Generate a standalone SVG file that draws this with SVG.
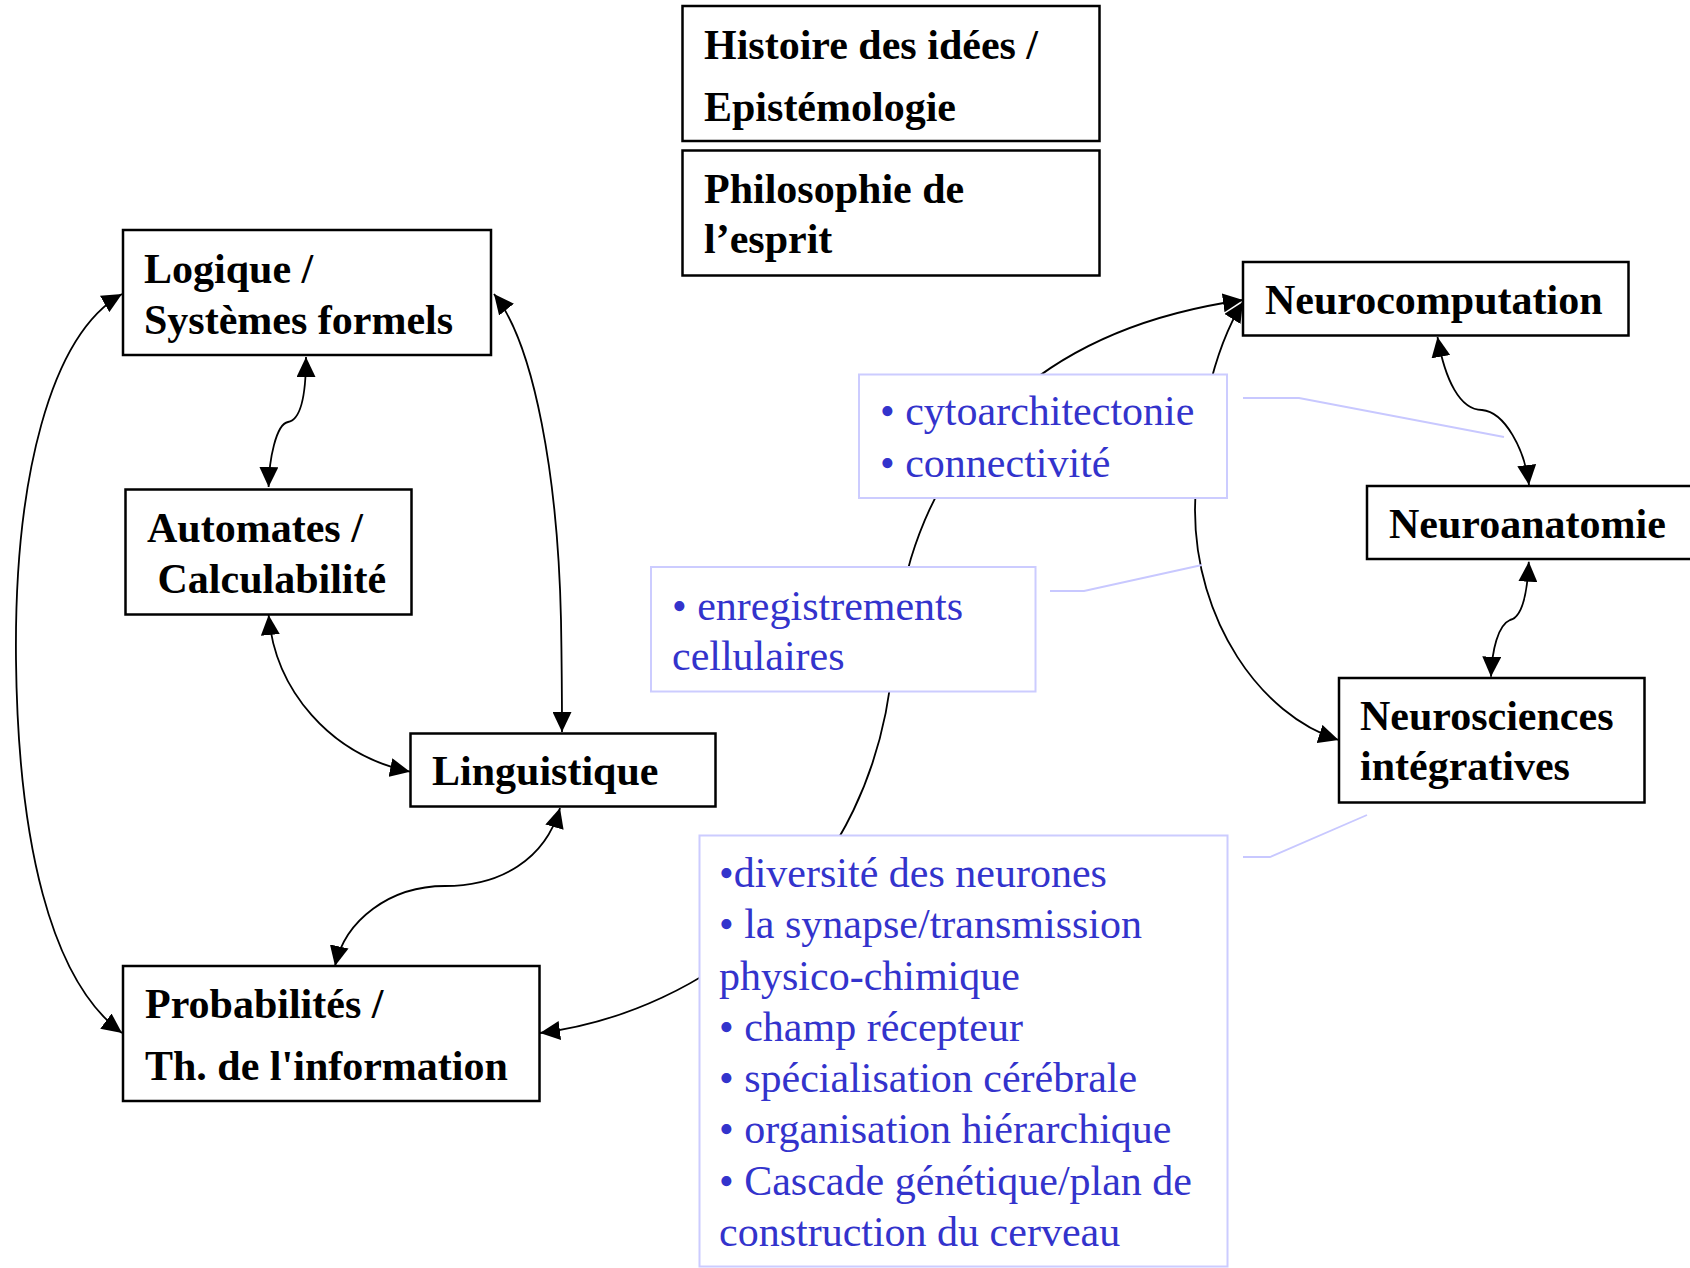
<svg xmlns="http://www.w3.org/2000/svg" width="1690" height="1268" viewBox="0 0 1690 1268">
<style>
.box{fill:#fff;stroke:#000;stroke-width:2.5}
.note{fill:#fff;stroke:#ccccff;stroke-width:2}
.bt{font-family:"Liberation Serif","Times New Roman",serif;font-weight:bold;font-size:42px;fill:#000}
.nt{font-family:"Liberation Serif","Times New Roman",serif;font-size:42px;fill:#3333cc}
.c{fill:none;stroke:#000;stroke-width:1.8}
.lead{fill:none;stroke:#c8c8ff;stroke-width:1.8}
</style>
<defs>
<marker id="ah" markerUnits="userSpaceOnUse" markerWidth="21" markerHeight="19" refX="20" refY="9.5" orient="auto-start-reverse">
<path d="M0,0 L20,9.5 L0,19 z" fill="#000"/>
</marker>
</defs>
<rect width="1690" height="1268" fill="#fff"/>
<g id="connectors">
<path class="c" d="M306,357 C306,400 300,420 288,422 C276,424 269,460 268.6,487" marker-start="url(#ah)" marker-end="url(#ah)"/>
<path class="c" d="M122,294 C50,335 14,480 16,660 C18,840 50,980 122,1033" marker-start="url(#ah)" marker-end="url(#ah)"/>
<path class="c" d="M494,294 C535,345 558,480 561,620 C562,680 562,710 562,732" marker-start="url(#ah)" marker-end="url(#ah)"/>
<path class="c" d="M268.6,615 C275,690 330,755 410,771.7" marker-start="url(#ah)" marker-end="url(#ah)"/>
<path class="c" d="M560,808 C545,860 500,886 445,886 C390,886 345,920 335,966" marker-start="url(#ah)" marker-end="url(#ah)"/>
<path class="c" d="M540,1033 C705,1012 875,885 893,660 C900,540 960,340 1243,300" marker-start="url(#ah)" marker-end="url(#ah)"/>
<path class="c" d="M1338.6,740 C1260,715 1195,620 1195,510 C1195,430 1213,350 1243,302" marker-start="url(#ah)" marker-end="url(#ah)"/>
<path class="c" d="M1437.5,337 C1445,380 1460,410 1482,410 C1505,412 1525,450 1529,485" marker-start="url(#ah)" marker-end="url(#ah)"/>
<path class="c" d="M1528.8,561.7 C1527,600 1520,618 1510,620 C1498,625 1492,650 1491,676.7" marker-start="url(#ah)" marker-end="url(#ah)"/>
<polyline class="lead" points="1243,398 1299,398 1504,437"/>
<polyline class="lead" points="1050,591 1084,591 1202,565"/>
<polyline class="lead" points="1243,857 1270,857 1367,815"/>
</g>
<g id="n-histoire">
<rect class="box" x="682.5" y="6" width="417" height="135"/>
<text class="bt" x="704" y="59">Histoire des idées /</text>
<text class="bt" x="704" y="121">Epistémologie</text>
</g>
<g id="n-philo">
<rect class="box" x="682.5" y="150.5" width="417" height="125"/>
<text class="bt" x="704" y="203">Philosophie de</text>
<text class="bt" x="704" y="253">l’esprit</text>
</g>
<g id="n-logique">
<rect class="box" x="123" y="230" width="368" height="125"/>
<text class="bt" x="144" y="283">Logique /</text>
<text class="bt" x="144" y="334">Systèmes formels</text>
</g>
<g id="n-automates">
<rect class="box" x="125.5" y="489.5" width="286" height="125"/>
<text class="bt" x="147" y="542">Automates /</text>
<text class="bt" x="147" y="593" xml:space="preserve"> Calculabilité</text>
</g>
<g id="n-linguistique">
<rect class="box" x="410.5" y="733.5" width="305" height="73"/>
<text class="bt" x="432" y="785">Linguistique</text>
</g>
<g id="n-probabilites">
<rect class="box" x="123" y="966" width="416.5" height="135"/>
<text class="bt" x="145" y="1018">Probabilités /</text>
<text class="bt" x="145" y="1080">Th. de l'information</text>
</g>
<g id="n-neurocomputation">
<rect class="box" x="1243" y="262" width="385.5" height="73.5"/>
<text class="bt" x="1265" y="314">Neurocomputation</text>
</g>
<g id="n-neuroanatomie">
<rect class="box" x="1367" y="486" width="340" height="73"/>
<text class="bt" x="1389" y="538">Neuroanatomie</text>
</g>
<g id="n-neurosciences">
<rect class="box" x="1339" y="678" width="305.5" height="124.5"/>
<text class="bt" x="1360" y="730">Neurosciences</text>
<text class="bt" x="1360" y="780">intégratives</text>
</g>
<g id="n-cyto">
<rect class="note" x="859" y="374.5" width="368" height="123.5"/>
<text class="nt" x="880" y="425">• cytoarchitectonie</text>
<text class="nt" x="880" y="477">• connectivité</text>
</g>
<g id="n-enregistrements">
<rect class="note" x="651" y="567" width="384.5" height="124.5"/>
<text class="nt" x="672" y="620">• enregistrements</text>
<text class="nt" x="672" y="670">cellulaires</text>
</g>
<g id="n-diversite">
<rect class="note" x="699.5" y="835.5" width="528" height="431"/>
<text class="nt" x="719" y="887">•diversité des neurones</text>
<text class="nt" x="719" y="938">• la synapse/transmission</text>
<text class="nt" x="719" y="990">physico-chimique</text>
<text class="nt" x="719" y="1041">• champ récepteur</text>
<text class="nt" x="719" y="1092">• spécialisation cérébrale</text>
<text class="nt" x="719" y="1143">• organisation hiérarchique</text>
<text class="nt" x="719" y="1195">• Cascade génétique/plan de</text>
<text class="nt" x="719" y="1246">construction du cerveau</text>
</g>
</svg>
